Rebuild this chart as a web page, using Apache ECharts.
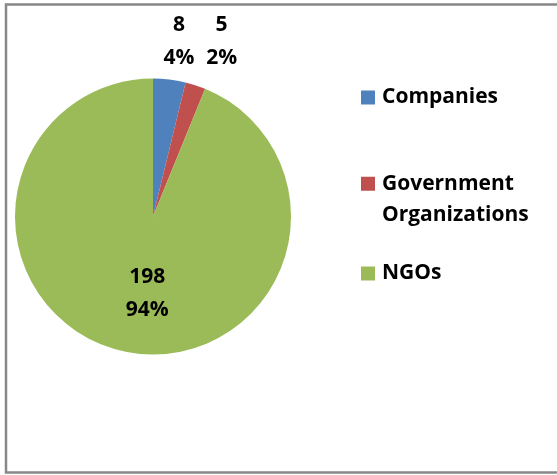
<!DOCTYPE html>
<html>
<head>
<meta charset="utf-8">
<script src="https://cdn.jsdelivr.net/npm/echarts@6/dist/echarts.min.js"></script>
<style>
  html, body { margin: 0; padding: 0; background: #fff; }
  #chart { width: 557px; height: 475px; }
</style>
</head>
<body>
<div id="chart"></div>
<script>
var categories = ['Companies', 'Government\nOrganizations', 'NGOs']
var counts = [8, 5, 198]
var colors = ['#4F81BD', '#C0504D', '#9BBB59']

var fontFamily = '"Open Sans", Lato, sans-serif'

var chart = echarts.init(document.getElementById('chart'))

// one legend per entry so the two-line entry keeps its square on the first line
function legendFor(i, top) {
  return {
    data: [categories[i]],
    left: 361,
    top: top,
    padding: 0,
    orient: 'vertical',
    itemWidth: 14,
    itemHeight: 14,
    icon: 'rect',
    selectedMode: false,
    // blank first line so the square sits level with "Government"
    formatter: function(name) {
      return i === 1 ? '\n' + name : name
    },
    textStyle: {
      fontFamily: fontFamily,
      fontWeight: 'bold',
      fontSize: 21,
      color: '#000',
      lineHeight: i === 1 ? 31.5 : 20,
      padding: [0, 0, 0, 2]
    }
  }
}

var pieData = categories.map(function(name, i) {
  var item = { name: name, value: counts[i], itemStyle: { color: colors[i] } }
  if (i === 0) item.labelLine = { length: 38, length2: 5 }
  if (i === 1) item.labelLine = { length: 46, length2: 12 }
  if (i === 2) item.label = { position: 'inside' }
  return item
})

chart.setOption({
  animation: false,
  backgroundColor: '#fff',
  graphic: [{
    type: 'rect',
    shape: { x: 6, y: 4.5, width: 600, height: 468 },
    style: { fill: 'none', stroke: '#888', lineWidth: 2.5 },
    silent: true
  }],
  legend: [
    legendFor(0, 87),
    legendFor(1, 136.5),
    legendFor(2, 263)
  ],
  series: [{
    type: 'pie',
    center: [153, 216.5],
    radius: 138,
    startAngle: 90,
    clockwise: true,
    percentPrecision: 0,
    avoidLabelOverlap: false,
    label: {
      show: true,
      position: 'outside',
      formatter: '{c}\n{d}%',
      fontFamily: fontFamily,
      fontWeight: 'bold',
      fontSize: 21,
      lineHeight: 33,
      color: '#000',
      distanceToLabelLine: 0
    },
    labelLine: { show: false },
    labelLayout: function(params) {
      if (params.dataIndex === 2) return { dx: 8, dy: 6 }
      return { align: 'center' }
    },
    emphasis: { disabled: true },
    data: pieData
  }]
})
</script>
</body>
</html>
